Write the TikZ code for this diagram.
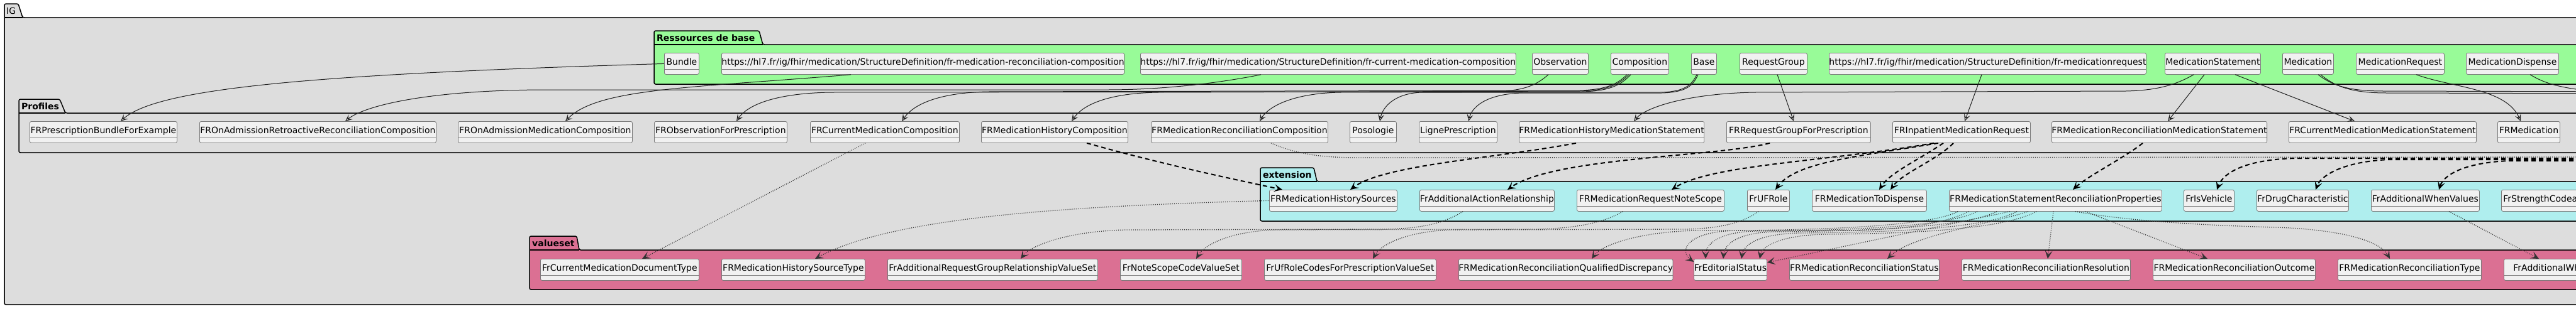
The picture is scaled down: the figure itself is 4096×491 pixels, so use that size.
\documentclass[tikz,border=0pt]{standalone}
\usepackage{fontspec}
\setmainfont{DejaVu Sans}
\usetikzlibrary{arrows.meta}
\definecolor{igbg}{HTML}{DDDDDD}
\definecolor{resbg}{HTML}{98FB98}
\definecolor{extbg}{HTML}{AFEEEE}
\definecolor{vsbg}{HTML}{DB7093}
\definecolor{nodebg}{HTML}{F1F1F1}
\definecolor{nodeline}{HTML}{7A7A7A}
\tikzset{
 cls/.style={draw=nodeline, fill=nodebg, line width=0.8pt, rounded corners=2.5pt, anchor=north west,
   minimum height=34pt, inner xsep=0pt, inner ysep=0pt, text height=10pt, text depth=3pt,
   font=\fontsize{14}{16}\selectfont,
   path picture={\draw[nodeline, line width=0.8pt] ([yshift=8pt]path picture bounding box.south west) -- ([yshift=8pt]path picture bounding box.south east);}},
 pkgbox/.style={draw=black, line width=1.5pt, rounded corners=2.5pt},
 pkgtitle/.style={font=\fontsize{14}{16}\selectfont\bfseries, anchor=west, inner sep=0pt},
 solidarr/.style={draw=black!88, line width=1pt, -{Stealth[open, length=11pt, width=10pt, inset=5pt]}},
 dasharr/.style={draw=black, line width=2pt, dash pattern=on 7pt off 5pt, -{Stealth[length=13pt,width=12pt,inset=6pt]}},
 dotarr/.style={draw=black!80, line width=1.3pt, dash pattern=on 1pt off 2pt, -{Stealth[length=13pt,width=12pt,inset=6pt]}},
}
\newcommand\cls[5]{\node[cls, minimum width={#3pt-#2pt}] (#1) at (#2,#4) {\raisebox{1.5pt}{#5}};}
\begin{document}
\begin{tikzpicture}[x=1pt,y=-1pt]
\useasboundingbox (0,0) rectangle (4096,491);
\clip (0,0) rectangle (4096,491);
\fill[white] (0,0) rectangle (4096,491);
% packages
\path[pkgbox, fill=igbg] (7,485) -- (7,6) -- (29,6) -- (36,28) -- (4200,28) -- (4200,485) -- cycle;
\draw[black, line width=1.5pt] (7,28) -- (36,28);
\node[pkgtitle, font=\fontsize{14}{16}\selectfont] (tig) at (10,17) {IG};
\path[pkgbox, fill=igbg] (30,243) -- (30,158) -- (95,158) -- (104,180) -- (4200,180) -- (4200,243) -- cycle;
\draw[black, line width=1.5pt] (30,180) -- (104,180);
\node[pkgtitle] (tprof) at (34,169) {Profiles};
\path[pkgbox, fill=resbg] (1040,134) -- (1040,49) -- (1207,49) -- (1213,71) -- (4200,71) -- (4200,134) -- cycle;
\draw[black, line width=1.5pt] (1040,71) -- (1213,71);
\node[pkgtitle] (tres) at (1044,60) {Ressources de base};
\path[pkgbox, fill=extbg] (2004,352) -- (2004,267) -- (2089,267) -- (2094,289) -- (4200,289) -- (4200,352) -- cycle;
\draw[black, line width=1.5pt] (2004,289) -- (2094,289);
\node[pkgtitle] (text) at (2008,278) {extension};
\path[pkgbox, fill=vsbg] (842,461) -- (842,376) -- (917,376) -- (921,398) -- (4200,398) -- (4200,461) -- cycle;
\draw[black, line width=1.5pt] (842,398) -- (921,398);
\node[pkgtitle] (tvs) at (846,387) {valueset};
% resources
\cls{rbundle}{1056}{1111}{84}{Bundle}
\cls{rurlrec}{1147}{1777}{84}{https://hl7.fr/ig/fhir/medication/StructureDefinition/fr-medication-reconciliation-composition}
\cls{rurlcur}{1813}{2401}{84}{https://hl7.fr/ig/fhir/medication/StructureDefinition/fr-current-medication-composition}
\cls{robs}{2436}{2525}{84}{Observation}
\cls{rcomp}{2561}{2653}{84}{Composition}
\cls{rbase}{2689}{2729}{84}{Base}
\cls{rrg}{2766}{2873}{84}{RequestGroup}
\cls{rurlmr}{2908}{3406}{84}{https://hl7.fr/ig/fhir/medication/StructureDefinition/fr-medicationrequest}
\cls{rms}{3442}{3594}{84}{MedicationStatement}
\cls{rmed}{3629}{3710}{84}{Medication}
\cls{rmr}{3746}{3886}{84}{MedicationRequest}
\cls{rmd}{3921}{4068}{84}{MedicationDispense}
% profiles
\cls{pbundle}{47}{281}{193}{FRPrescriptionBundleForExample}
\cls{pretro}{317}{693}{193}{FROnAdmissionRetroactiveReconciliationComposition}
\cls{ponadm}{728}{1005}{193}{FROnAdmissionMedicationComposition}
\cls{pobs}{1040}{1251}{193}{FRObservationForPrescription}
\cls{pcurcomp}{1288}{1525}{193}{FRCurrentMedicationComposition}
\cls{phistcomp}{1560}{1793}{193}{FRMedicationHistoryComposition}
\cls{preccomp}{1830}{2111}{193}{FRMedicationReconciliationComposition}
\cls{pposo}{2146}{2220}{193}{Posologie}
\cls{pligne}{2256}{2380}{193}{LignePrescription}
\cls{phistms}{2415}{2708}{193}{FRMedicationHistoryMedicationStatement}
\cls{prg}{2745}{2974}{193}{FRRequestGroupForPrescription}
\cls{pinpat}{3009}{3228}{193}{FRInpatientMedicationRequest}
\cls{precms}{3262}{3604}{193}{FRMedicationReconciliationMedicationStatement}
\cls{pcurms}{3639}{3937}{193}{FRCurrentMedicationMedicationStatement}
\cls{pmed}{3971}{4070}{193}{FRMedication}
% extensions
\cls{ehistsrc}{2018}{2221}{302}{FRMedicationHistorySources}
\cls{eaddact}{2257}{2471}{302}{FrAdditionalActionRelationship}
\cls{enotescope}{2507}{2741}{302}{FRMedicationRequestNoteScope}
\cls{eufrole}{2778}{2845}{302}{FrUFRole}
\cls{etodisp}{2881}{3063}{302}{FRMedicationToDispense}
\cls{emsrp}{3099}{3437}{302}{FRMedicationStatementReconciliationProperties}
\cls{eisveh}{3472}{3552}{302}{FrIsVehicle}
\cls{edrug}{3588}{3734}{302}{FrDrugCharacteristic}
\cls{eaddwhen}{3770}{3942}{302}{FrAdditionalWhenValues}
\cls{estrength}{3977}{4180}{302}{FrStrengthCodeableConcept}
% valuesets
\cls{vcurdoc}{859}{1111}{412}{FrCurrentMedicationDocumentType}
\cls{vhistsrc}{1147}{1375}{412}{FRMedicationHistorySourceType}
\cls{vaddrg}{1411}{1745}{412}{FrAdditionalRequestGroupRelationshipValueSet}
\cls{vnotescope}{1781}{1974}{412}{FrNoteScopeCodeValueSet}
\cls{vufrole}{2010}{2283}{412}{FrUfRoleCodesForPrescriptionValueSet}
\cls{vqdisc}{2319}{2657}{412}{FRMedicationReconciliationQualifiedDiscrepancy}
\cls{vedit}{2693}{2809}{412}{FrEditorialStatus}
\cls{vrecstat}{2845}{3083}{412}{FRMedicationReconciliationStatus}
\cls{vrecres}{3119}{3387}{412}{FRMedicationReconciliationResolution}
\cls{vrecout}{3423}{3681}{412}{FRMedicationReconciliationOutcome}
\cls{vrectype}{3717}{3945}{412}{FRMedicationReconciliationType}
\cls{vaddwhen}{3981}{4180}{412}{FrAdditionalWhenValues}
% off-image ends
\coordinate (offA) at (4200,146);
\coordinate (offB) at (4200,149);
\coordinate (offC) at (4200,150);
\coordinate (offD1) at (4200,252);
\coordinate (offD2) at (4200,254);
\coordinate (offD3) at (4200,256);
\coordinate (offT1) at (4200,250);
% solid connectors
\draw[solidarr] (rbundle.west) .. controls (500,118) and (250,140) .. ([xshift=145pt]pbundle.north west);
\draw[solidarr] ([xshift=192pt]rurlcur.south west) .. controls (1940,132) and (1850,143) .. (1760,143) -- (860,143) .. controls (680,144) and (580,168) .. ([xshift=232pt]pretro.north west);
\draw[solidarr] ([xshift=206pt]rurlrec.south west) .. controls (1100,140) and (950,140) .. ([xshift=171pt]ponadm.north west);
\draw[solidarr] ([xshift=26pt]robs.south west) .. controls (2440,138) and (2420,145) .. (2370,146) -- (1320,147) .. controls (1220,149) and (1185,172) .. ([xshift=131pt]pobs.north west);
\draw[solidarr] ([xshift=26pt]rcomp.south west) .. controls (2570,136) and (2550,143) .. (2510,144) -- (1570,146) .. controls (1480,148) and (1448,172) .. ([xshift=146pt]pcurcomp.north west);
\draw[solidarr] ([xshift=29pt]rcomp.south west) .. controls (2572,137) and (2552,144) .. (2512,145) -- (1840,147) .. controls (1750,149) and (1718,172) .. ([xshift=144pt]phistcomp.north west);
\draw[solidarr] ([xshift=32pt]rcomp.south west) .. controls (2575,138) and (2555,145) .. (2515,146) -- (2130,147) .. controls (2050,149) and (2015,172) .. ([xshift=173pt]preccomp.north west);
\draw[solidarr] ([xshift=9pt]rbase.south west) .. controls (2690,135) and (2680,146) .. (2640,147) -- (2260,147) .. controls (2215,149) and (2198,172) .. ([xshift=48pt]pposo.north west);
\draw[solidarr] ([xshift=11pt]rbase.south west) .. controls (2692,136) and (2682,147) .. (2642,148) -- (2420,148) .. controls (2360,150) and (2340,172) .. ([xshift=79pt]pligne.north west);
\draw[solidarr] ([xshift=46pt]rms.south west) .. controls (3460,135) and (3430,144) .. (3380,145) -- (2790,147) .. controls (2680,149) and (2615,172) .. ([xshift=183pt]phistms.north west);
\draw[solidarr] ([xshift=60pt]rrg.south west) -- ([xshift=107pt]prg.north west);
\draw[solidarr] ([xshift=243pt]rurlmr.south west) -- ([xshift=115pt]pinpat.north west);
\draw[solidarr] ([xshift=63pt]rms.south west) -- ([xshift=185pt]precms.north west);
\draw[solidarr] ([xshift=112pt]rms.south west) -- ([xshift=105pt]pcurms.north west);
\draw[solidarr] ([xshift=96pt]rmr.south west) .. controls (3900,140) and (3985,140) .. ([xshift=37pt]pmed.north west);
\draw[solidarr] ([xshift=57pt]rmed.south west) .. controls (3710,138) and (3740,145) .. (3790,145) -- (offA);
\draw[solidarr] ([xshift=61pt]rmed.south west) .. controls (3715,140) and (3745,148) .. (3795,148) -- (offB);
\draw[solidarr] ([xshift=102pt]rmd.south west) .. controls (4050,135) and (4080,145) .. (offC);
% dashed connectors
\draw[dasharr] ([xshift=168pt]phistcomp.south west) .. controls (1850,262) and (1960,285) .. ([xshift=21pt]ehistsrc.north west);
\draw[dasharr] ([xshift=91pt]phistms.south west) .. controls (2380,252) and (2200,262) .. ([xshift=129pt]ehistsrc.north west);
\draw[dasharr] ([xshift=69pt]prg.south west) .. controls (2730,250) and (2470,250) .. ([xshift=140pt]eaddact.north west);
\draw[dasharr] ([xshift=66pt]pinpat.south west) .. controls (2900,258) and (2720,262) .. ([xshift=151pt]enotescope.north west);
\draw[dasharr] ([xshift=73pt]pinpat.south west) .. controls (2950,250) and (2855,258) .. ([xshift=45pt]eufrole.north west);
\draw[dasharr] ([xshift=81pt]pinpat.south west) .. controls (3050,255) and (3005,275) .. ([xshift=107pt]etodisp.north west);
\draw[dasharr] ([xshift=97pt]pinpat.south west) .. controls (3080,255) and (3025,275) .. ([xshift=125pt]etodisp.north west);
\draw[dasharr] ([xshift=145pt]precms.south west) .. controls (3380,250) and (3320,280) .. ([xshift=197pt]emsrp.north west);
\draw[dasharr] (offD1) -- (3650,252) .. controls (3570,254) and (3535,275) .. ([xshift=53pt]eisveh.north west);
\draw[dasharr] (offD2) -- (3800,254) .. controls (3725,257) and (3690,280) .. ([xshift=94pt]edrug.north west);
\draw[dasharr] (offD3) -- (3990,256) .. controls (3915,259) and (3885,280) .. ([xshift=108pt]eaddwhen.north west);
% dotted connectors
\draw[dotarr] ([xshift=88pt]pcurcomp.south west) -- ([xshift=162pt]vcurdoc.north west);
\draw[dotarr] (ehistsrc.west) .. controls (1700,328) and (1420,345) .. ([xshift=149pt]vhistsrc.north west);
\draw[dotarr] ([xshift=69pt]eaddact.south west) .. controls (2295,356) and (2260,364) .. (2200,365) -- (1790,366) .. controls (1700,368) and (1640,390) .. ([xshift=212pt]vaddrg.north west);
\draw[dotarr] ([xshift=73pt]enotescope.south west) .. controls (2548,356) and (2500,364) .. (2440,365) -- (2030,366) .. controls (1955,368) and (1915,390) .. ([xshift=121pt]vnotescope.north west);
\draw[dotarr] ([xshift=18pt]eufrole.south west) .. controls (2770,356) and (2730,364) .. (2680,365) -- (2310,366) .. controls (2235,368) and (2195,390) .. ([xshift=173pt]vufrole.north west);
\draw[dotarr] ([xshift=31pt]emsrp.south west) .. controls (3090,358) and (3010,366) .. (2950,367) -- (2700,367) .. controls (2600,369) and (2545,392) .. ([xshift=212pt]vqdisc.north west);
\draw[dotarr] ([xshift=14pt]emsrp.south west) .. controls (3070,360) and (2900,366) .. (2760,367) .. controls (2680,369) and (2670,400) .. ([yshift=-5pt]vedit.north west);
\draw[dotarr] ([xshift=45pt]emsrp.south west) .. controls (3100,360) and (2950,367) .. (2790,368) .. controls (2730,370) and (2712,390) .. ([xshift=19pt]vedit.north west);
\draw[dotarr] ([xshift=76pt]emsrp.south west) .. controls (3130,360) and (2990,368) .. (2820,369) .. controls (2760,371) and (2742,390) .. ([xshift=47pt]vedit.north west);
\draw[dotarr] ([xshift=108pt]emsrp.south west) .. controls (3160,362) and (3030,370) .. (2860,371) .. controls (2790,373) and (2772,392) .. ([xshift=76pt]vedit.north west);
\draw[dotarr] ([xshift=139pt]emsrp.south west) .. controls (3190,363) and (3060,372) .. (2900,373) .. controls (2830,375) and (2802,392) .. ([xshift=105pt]vedit.north west);
\draw[dotarr] ([xshift=97pt]emsrp.south west) -- ([yshift=-6pt]vedit.north east);
\draw[dotarr] ([xshift=126pt]emsrp.south west) .. controls (3150,360) and (3040,375) .. ([xshift=156pt]vrecstat.north west);
\draw[dotarr] ([xshift=166pt]emsrp.south west) -- ([xshift=137pt]vrecres.north west);
\draw[dotarr] ([xshift=217pt]emsrp.south west) -- ([xshift=87pt]vrecout.north west);
\draw[dotarr] ([xshift=201pt]emsrp.south west) .. controls (3400,355) and (3550,360) .. (3620,362) .. controls (3730,366) and (3785,385) .. ([xshift=83pt]vrectype.north west);
\draw[dotarr] ([xshift=124pt]eaddwhen.south west) -- ([xshift=56pt]vaddwhen.north west);
\draw[dotarr] ([xshift=191pt]preccomp.south west) .. controls (2060,245) and (2100,251) .. (2160,251) -- (offT1);
\end{tikzpicture}
\end{document}
